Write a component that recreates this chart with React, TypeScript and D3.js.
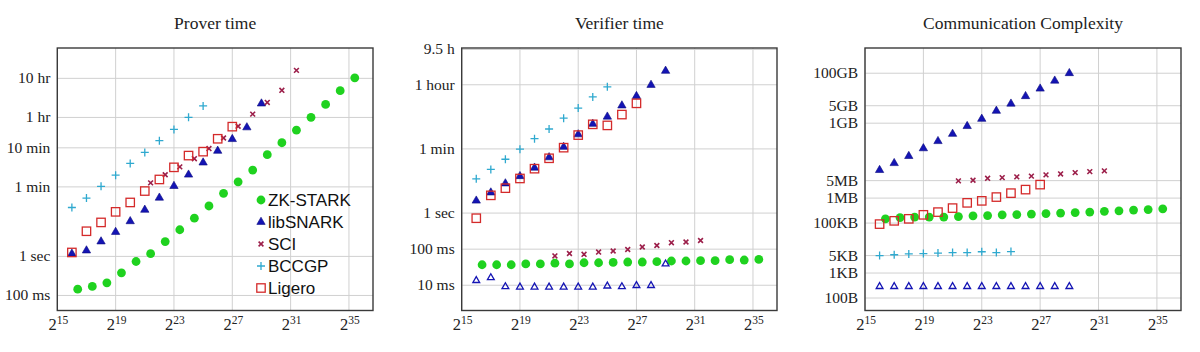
import React from 'react';
import * as d3 from 'd3';

// x positions are log2 of the instance size
const intExp = [16, 17, 18, 19, 20, 21, 22, 23, 24, 25, 26, 27, 28, 29];
const starkExp = [16.4, 17.4, 18.4, 19.4, 20.4, 21.4, 22.4, 23.4, 24.4, 25.4, 26.4, 27.4, 28.4, 29.4, 30.4, 31.4, 32.4, 33.4, 34.4, 35.4];
const sciExp = [21.4, 22.4, 23.4, 24.4, 25.4, 26.4, 27.4, 28.4, 29.4, 30.4, 31.4];
const xTickExp = [15, 19, 23, 27, 31, 35];

// prover time, seconds
const proverStark = [0.145, 0.17, 0.21, 0.38, 0.74, 1.17, 2.4, 4.8, 9.5, 19.5, 41, 81, 162, 400, 810, 1700, 3630, 7760, 17400, 37150];
const proverSnark = [1.17, 1.41, 2.4, 4.2, 7.9, 15.5, 31.6, 63, 123, 251, 501, 1000, 1995, 8130];
const proverSci = [76, 123, 195, 316, 575, 1070, 2140, 4370, 8710, 17800, 57500];
const proverBccgp = [17.8, 31, 62, 120, 240, 457, 912, 1780, 3630, 7080];
const proverLigero = [1.26, 4.4, 7.4, 13.8, 24, 47, 93, 190, 380, 479, 1023, 2090];

// verifier time, seconds
const verifierStark = [0.037, 0.037, 0.037, 0.039, 0.039, 0.041, 0.039, 0.042, 0.042, 0.043, 0.044, 0.044, 0.045, 0.047, 0.047, 0.048, 0.048, 0.051, 0.05, 0.052];
const verifierSnark = [2.2, 3.7, 6.6, 10.5, 18, 35, 68, 151, 295, 468, 955, 1740, 3550, 8710];
const verifierSnarkSmall = [0.0135, 0.0162, 0.0091, 0.0089, 0.0089, 0.0089, 0.0089, 0.0089, 0.0089, 0.0095, 0.0091, 0.0098, 0.0098, 0.039];
const verifierSci = [0.065, 0.076, 0.072, 0.083, 0.089, 0.098, 0.115, 0.126, 0.151, 0.158, 0.174];
const verifierBccgp = [8.9, 16.2, 31, 59, 115, 214, 427, 813, 1660, 3160];
const verifierLigero = [0.72, 3.1, 4.9, 9.1, 17, 33, 65, 145, 288, 269, 537, 1100];

// communication, bytes
const commStark = [148e3, 166e3, 174e3, 174e3, 174e3, 182e3, 195e3, 200e3, 214e3, 219e3, 229e3, 240e3, 251e3, 263e3, 275e3, 295e3, 309e3, 331e3, 347e3, 372e3];
const commSnark = [13.2e6, 25e6, 48e6, 98e6, 190e6, 370e6, 760e6, 1.48e9, 3.1e9, 6.0e9, 12e9, 24e9, 50e9, 100e9];
const commSnarkSmall = [288, 288, 288, 288, 288, 288, 288, 288, 288, 288, 288, 288, 288, 288];
const commSci = [4.9e6, 5.2e6, 6.2e6, 6.6e6, 7.1e6, 7.6e6, 8.5e6, 9.3e6, 10.5e6, 11.5e6, 12.3e6];
const commBccgp = [5.0e3, 5.4e3, 5.8e3, 6.0e3, 6.3e3, 6.6e3, 6.6e3, 7.1e3, 6.6e3, 7.2e3];
const commLigero = [91e3, 123e3, 148e3, 214e3, 275e3, 398e3, 646e3, 776e3, 1.1e6, 1.58e6, 2.19e6, 3.47e6];

const proverTicks = [36000, 3600, 600, 60, 1, 0.1];
const proverTickLabels = ['10 hr', '1 hr', '10 min', '1 min', '1 sec', '100 ms'];
const verifierTicks = [34200, 3600, 60, 1, 0.1, 0.01];
const verifierTickLabels = ['9.5 h', '1 hour', '1 min', '1 sec', '100 ms', '10 ms'];
const commTicks = [1e11, 5e9, 1e9, 5e6, 1e6, 1e5, 5e3, 1e3, 100];
const commTickLabels = ['100GB', '5GB', '1GB', '5MB', '1MB', '100KB', '5KB', '1KB', '100B'];

const legendNames = ['ZK-STARK', 'libSNARK', 'SCI', 'BCCGP', 'Ligero'];

const COLORS = {
  stark: '#1fd21f',
  snark: '#1414b4',
  sci: '#9c1f4a',
  bccgp: '#2fa9cf',
  ligero: '#d42a2a',
};

type Kind = 'circle' | 'tri' | 'triOpen' | 'cross' | 'plus' | 'square';

const Marker: React.FC<{ kind: Kind; x: number; y: number }> = ({ kind, x, y }) => {
  const t = `translate(${x},${y})`;
  if (kind === 'circle') return <circle cx={x} cy={y} r={4.4} fill={COLORS.stark} />;
  if (kind === 'tri')
    return (
      <path transform={t} d={d3.symbol(d3.symbolTriangle, 30)() || ''} fill={COLORS.snark} stroke="#0a0a80" strokeWidth={0.6} />
    );
  if (kind === 'triOpen')
    return <path transform={t} d={d3.symbol(d3.symbolTriangle, 20)() || ''} fill="none" stroke={COLORS.snark} strokeWidth={1.3} />;
  if (kind === 'cross')
    return (
      <path transform={t} d="M-2.4,-2.4L2.4,2.4M-2.4,2.4L2.4,-2.4" stroke={COLORS.sci} strokeWidth={1.6} />
    );
  if (kind === 'plus')
    return <path transform={t} d="M-4,0H4M0,-4V4" stroke={COLORS.bccgp} strokeWidth={1.3} />;
  return <rect x={x - 4.2} y={y - 4.2} width={8.4} height={8.4} fill="none" stroke={COLORS.ligero} strokeWidth={1.3} />;
};

interface Series {
  kind: Kind;
  exps: number[];
  values: number[];
}

interface PanelProps {
  title: string;
  left: number;
  right: number;
  yDomain: [number, number];
  ticks: number[];
  tickLabels: string[];
  series: Series[];
  legend?: boolean;
}

const TOP = 48;
const BOTTOM = 310.5;

const Panel: React.FC<PanelProps> = ({ title, left, right, yDomain, ticks, tickLabels, series, legend }) => {
  const x = d3.scaleLog().base(2).domain([2 ** 15, 2 ** 36.65]).range([left, right]);
  const y = d3.scaleLog().domain(yDomain).range([BOTTOM, TOP]);
  const serif = "'Liberation Serif', 'DejaVu Serif', serif";
  return (
    <g>
      <text x={(left + right) / 2} y={29} textAnchor="middle" fontFamily={serif} fontSize={17.5} fill="#222">
        {title}
      </text>
      {xTickExp.map((e) => (
        <line key={'gx' + e} x1={x(2 ** e)} x2={x(2 ** e)} y1={TOP} y2={BOTTOM} stroke="#d0d0d0" strokeWidth={1} />
      ))}
      {ticks.map((t) => (
        <line key={'gy' + t} x1={left} x2={right} y1={y(t)} y2={y(t)} stroke="#d0d0d0" strokeWidth={1} />
      ))}
      {series.map((s, si) =>
        s.values.map((v, i) => <Marker key={si + '-' + i} kind={s.kind} x={x(2 ** s.exps[i])} y={y(v)} />),
      )}
      <rect x={left} y={TOP} width={right - left} height={BOTTOM - TOP} fill="none" stroke="#3a3a3a" strokeWidth={1.4} />
      {ticks.map((t, i) => (
        <text
          key={'ly' + t}
          x={left - 7}
          y={y(t) + 5}
          textAnchor="end"
          fontFamily={serif}
          fontSize={15.5}
          fill="#222"
        >
          {tickLabels[i]}
        </text>
      ))}
      {xTickExp.map((e) => (
        <text key={'lx' + e} x={x(2 ** e) + 1} y={330} textAnchor="middle" fontFamily={serif} fontSize={16.5} fill="#222">
          2
          <tspan fontSize={11.5} dy={-6}>
            {e}
          </tspan>
        </text>
      ))}
      {legend &&
        series.map((s, i) => {
          const ly = 200 + i * 22;
          return (
            <g key={'lg' + i}>
              <Marker kind={s.kind} x={261} y={ly} />
              <text x={268} y={ly + 6} fontFamily="'Liberation Sans', Arial, sans-serif" fontSize={17} fill="#111">
                {legendNames[i]}
              </text>
            </g>
          );
        })}
    </g>
  );
};

const App: React.FC = () => {
  return (
    <svg
      width={1200}
      height={352}
      style={{ position: 'absolute', left: 0, top: 0, background: '#fff' }}
    >
      <rect width={1200} height={352} fill="#fff" />
      <Panel
        title="Prover time"
        left={57.3}
        right={373}
        yDomain={[10 ** -1.385, 10 ** 5.333]}
        ticks={proverTicks}
        tickLabels={proverTickLabels}
        legend
        series={[
          { kind: 'circle', exps: starkExp, values: proverStark },
          { kind: 'tri', exps: intExp, values: proverSnark },
          { kind: 'cross', exps: sciExp, values: proverSci },
          { kind: 'plus', exps: intExp, values: proverBccgp },
          { kind: 'square', exps: intExp, values: proverLigero },
        ]}
      />
      <Panel
        title="Verifier time"
        left={461.7}
        right={777}
        yDomain={[10 ** -2.7, 10 ** 4.575]}
        ticks={verifierTicks}
        tickLabels={verifierTickLabels}
        series={[
          { kind: 'circle', exps: starkExp, values: verifierStark },
          { kind: 'tri', exps: intExp, values: verifierSnark },
          { kind: 'triOpen', exps: intExp, values: verifierSnarkSmall },
          { kind: 'cross', exps: sciExp, values: verifierSci },
          { kind: 'plus', exps: intExp, values: verifierBccgp },
          { kind: 'square', exps: intExp, values: verifierLigero },
        ]}
      />
      <Panel
        title="Communication Complexity"
        left={865}
        right={1181}
        yDomain={[10 ** 1.5, 10 ** 12.01]}
        ticks={commTicks}
        tickLabels={commTickLabels}
        series={[
          { kind: 'circle', exps: starkExp, values: commStark },
          { kind: 'tri', exps: intExp, values: commSnark },
          { kind: 'triOpen', exps: intExp, values: commSnarkSmall },
          { kind: 'cross', exps: sciExp, values: commSci },
          { kind: 'plus', exps: intExp, values: commBccgp },
          { kind: 'square', exps: intExp, values: commLigero },
        ]}
      />
    </svg>
  );
};

export default App;
